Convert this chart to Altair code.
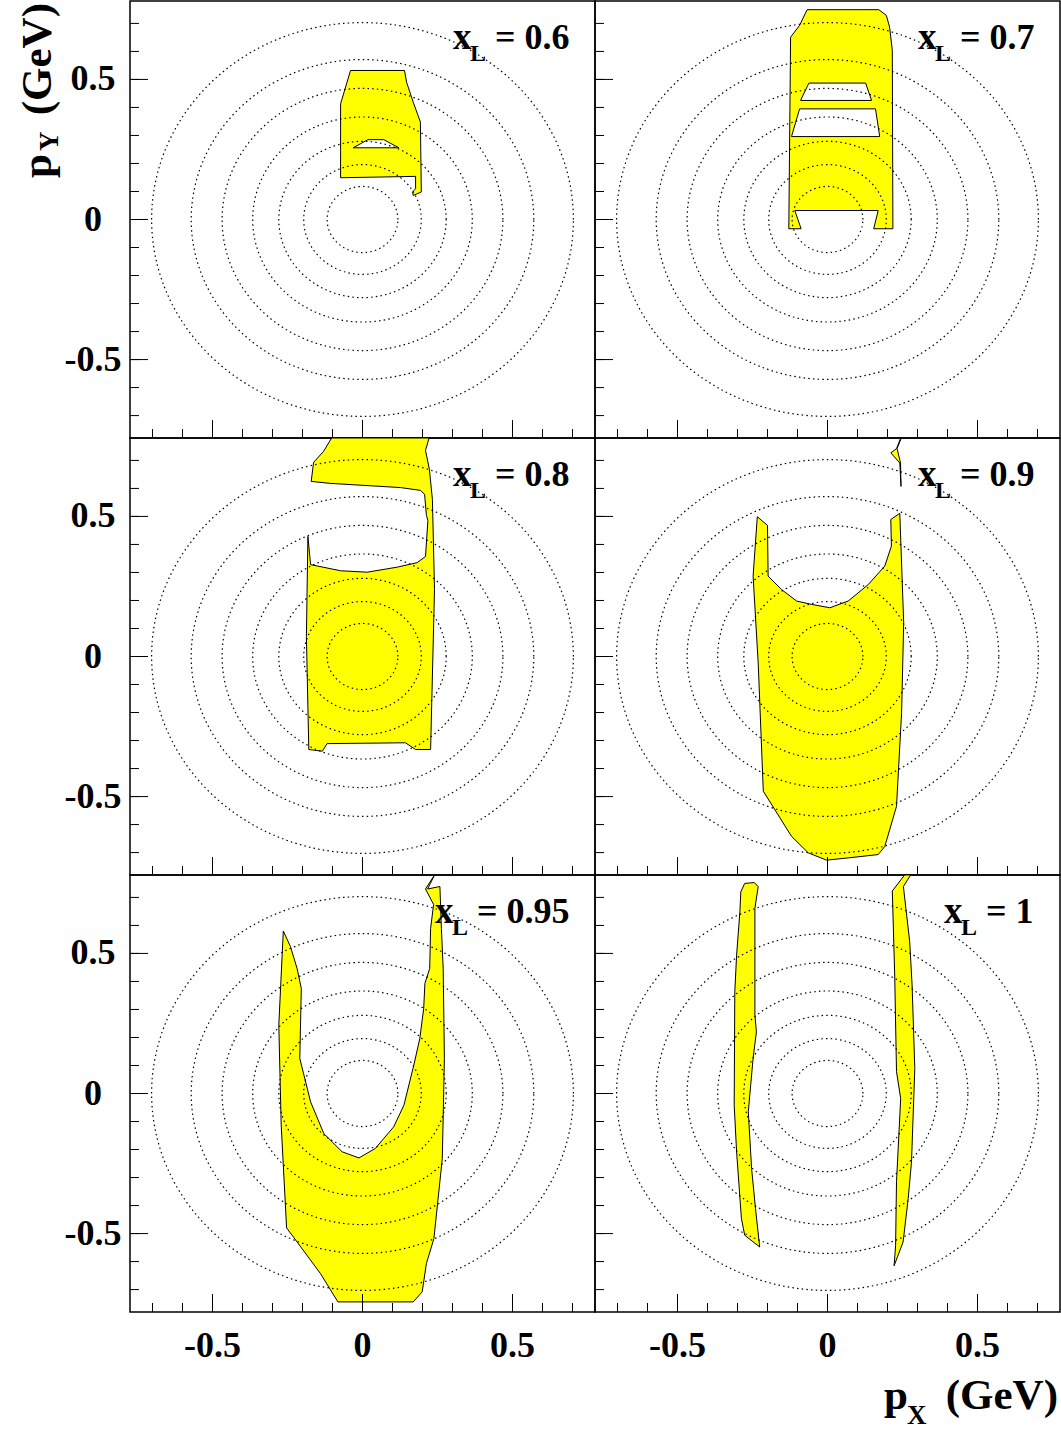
import numpy as np
import pandas as pd
import altair as alt

# ---------------- data ----------------
PANEL_XL = ["0.6", "0.7", "0.8", "0.9", "0.95", "1"]

# dotted guide circles (radius in GeV)
RADII = [0.118, 0.196, 0.279, 0.366, 0.468, 0.571, 0.703]

TICKS_MINOR = [-0.7, -0.6, -0.5, -0.4, -0.3, -0.2, -0.1, 0.0,
               0.1, 0.2, 0.3, 0.4, 0.5, 0.6, 0.7]
TICKS_MAJOR = [-0.5, 0.0, 0.5]
TICK_LABELS = ["-0.5", "0", "0.5"]

# xL = 0.6
P1_OUT_X = [-0.04, 0.14, 0.147, 0.169, 0.193, 0.196, 0.169, 0.167, 0.177, 0.177, -0.073, -0.073]
P1_OUT_Y = [0.532, 0.532, 0.490, 0.419, 0.348, 0.098, 0.086, 0.098, 0.11, 0.154, 0.149, 0.413]
P1_HOLE_X = [-0.031, 0.018, 0.071, 0.121]
P1_HOLE_Y = [0.256, 0.285, 0.285, 0.256]

# xL = 0.7
P2_OUT_X = [-0.123, -0.093, -0.068, 0.171, 0.196, 0.207, 0.216, 0.218, 0.154, 0.169, -0.109, -0.088, -0.129]
P2_OUT_Y = [0.651, 0.693, 0.749, 0.749, 0.729, 0.687, 0.604, -0.033, -0.033, 0.032, 0.032, -0.033, -0.033]
P2_HOLEA_X = [-0.062, 0.127, 0.147, -0.09]
P2_HOLEA_Y = [0.487, 0.487, 0.425, 0.425]
P2_HOLEB_X = [-0.093, 0.16, 0.174, -0.12]
P2_HOLEB_Y = [0.395, 0.395, 0.296, 0.296]

# xL = 0.8
P3_OUT_X = [-0.103, -0.13, -0.163, -0.171, -0.107, 0.127, 0.193, 0.207, 0.213, 0.218, 0.21, 0.182,
            0.116, 0.016, -0.073, -0.173, -0.182, -0.187, -0.179, -0.134, -0.118, 0.143, 0.177,
            0.227, 0.24, 0.233, 0.223, 0.21, 0.222]
P3_OUT_Y = [0.78, 0.732, 0.693, 0.625, 0.618, 0.603, 0.593, 0.579, 0.504, 0.486, 0.357, 0.335,
            0.319, 0.301, 0.306, 0.328, 0.429, 0.071, -0.332, -0.338, -0.311, -0.308, -0.332,
            -0.332, 0.239, 0.561, 0.668, 0.736, 0.78]

# xL = 0.9
P4_OUT_X = [-0.234, -0.2, -0.198, -0.153, -0.103, -0.053, 0.008, 0.069, 0.136, 0.191, 0.213, 0.211,
            0.241, 0.254, 0.247, 0.23, 0.191, 0.169, 0.069, -0.003, -0.064, -0.12, -0.214, -0.231, -0.248]
P4_OUT_Y = [0.499, 0.468, 0.287, 0.239, 0.198, 0.186, 0.174, 0.198, 0.257, 0.323, 0.394, 0.489,
            0.511, 0.120, -0.201, -0.535, -0.678, -0.707, -0.719, -0.727, -0.701, -0.642, -0.481, -0.023, 0.287]
P4_SLIV_X = [0.244, 0.23, 0.211, 0.241, 0.245, 0.2435, 0.232, 0.246]
P4_SLIV_Y = [0.78, 0.742, 0.727, 0.691, 0.607, 0.691, 0.742, 0.78]

# xL = 0.95
P5_OUT_X = [-0.264, -0.24, -0.218, -0.204, -0.209, -0.173, -0.129, -0.068, -0.012, 0.043, 0.104, 0.138,
            0.171, 0.191, 0.204, 0.208, 0.224, 0.227, 0.237, 0.21, 0.24, 0.217, 0.258, 0.263, 0.269,
            0.273, 0.266, 0.238, 0.213, 0.199, 0.169, -0.082, -0.14, -0.218, -0.253, -0.271, -0.279]
P5_OUT_Y = [0.58, 0.524, 0.446, 0.375, 0.125, -0.03, -0.143, -0.208, -0.23, -0.196, -0.119, -0.042,
            0.101, 0.196, 0.304, 0.393, 0.446, 0.589, 0.675, 0.73, 0.78, 0.73, 0.739, 0.589, 0.446,
            0.125, -0.232, -0.518, -0.607, -0.708, -0.744, -0.744, -0.643, -0.53, -0.48, -0.113, 0.244]

# xL = 1
P6_LEFT_X = [-0.276, -0.244, -0.231, -0.242, -0.242, -0.237, -0.248, -0.264, -0.253, -0.24, -0.226,
             -0.276, -0.287, -0.303, -0.311, -0.309, -0.303, -0.292, -0.289]
P6_LEFT_Y = [0.75, 0.753, 0.738, 0.661, 0.28, 0.22, 0.125, -0.065, -0.268, -0.411, -0.548,
             -0.506, -0.446, -0.208, -0.042, 0.363, 0.494, 0.649, 0.72]
P6_RIGHT_X = [0.216, 0.257, 0.277, 0.253, 0.274, 0.282, 0.291, 0.28, 0.269, 0.252, 0.222, 0.227,
              0.23, 0.244, 0.23, 0.224]
P6_RIGHT_Y = [0.723, 0.78, 0.78, 0.739, 0.542, 0.387, 0.089, -0.244, -0.375, -0.53, -0.615, -0.542,
              -0.315, -0.018, 0.078, 0.423]

FILLS = [
    [(P1_OUT_X, P1_OUT_Y)],
    [(P2_OUT_X, P2_OUT_Y)],
    [(P3_OUT_X, P3_OUT_Y)],
    [(P4_OUT_X, P4_OUT_Y), (P4_SLIV_X, P4_SLIV_Y)],
    [(P5_OUT_X, P5_OUT_Y)],
    [(P6_LEFT_X, P6_LEFT_Y), (P6_RIGHT_X, P6_RIGHT_Y)],
]
HOLES = [
    [(P1_HOLE_X, P1_HOLE_Y)],
    [(P2_HOLEA_X, P2_HOLEA_Y), (P2_HOLEB_X, P2_HOLEB_Y)],
    [], [], [], [],
]

# ---------------- layout / style ----------------
W, H = 465, 437
SERIF = "Liberation Serif"
YELLOW = "#ffff00"
LABEL_LEFT = [323, 323, 323, 323, 305, 349]
FS = 36

xscale = alt.Scale(domain=[-0.775, 0.775], nice=False, zero=False)
yscale = alt.Scale(domain=[-0.78, 0.78], nice=False, zero=False)


def poly_df(polys):
    rows = []
    for pid, (xs, ys) in enumerate(polys):
        n = len(xs)
        for i in range(n + 1):
            rows.append({"x": xs[i % n], "y": ys[i % n], "pid": pid, "i": i})
    return pd.DataFrame(rows)


theta = np.linspace(0, 2 * np.pi, 241)
circ_rows = []
for r in RADII:
    for i, t in enumerate(theta):
        circ_rows.append({"x": r * np.cos(t), "y": r * np.sin(t), "r": r, "i": i})
circ_df = pd.DataFrame(circ_rows)

tick_lab_df = pd.DataFrame({"t": TICKS_MAJOR, "lab": TICK_LABELS})


def txt(s, x, y, size, align="left", angle=0):
    return alt.Chart(pd.DataFrame({"t": [s]})).mark_text(
        font=SERIF, fontWeight="bold", fontSize=size, align=align,
        baseline="alphabetic", color="black", angle=angle
    ).encode(x=alt.value(x), y=alt.value(y), text="t:N")


def panel(idx):
    col, row = idx % 2, idx // 2
    X = alt.X("x:Q", scale=xscale, axis=None)
    Y = alt.Y("y:Q", scale=yscale, axis=None)

    layers = []
    layers.append(
        alt.Chart(poly_df(FILLS[idx])).mark_line(fill=YELLOW, stroke="black", strokeWidth=1)
        .encode(x=X, y=Y, detail="pid:N", order="i:Q")
    )
    if HOLES[idx]:
        layers.append(
            alt.Chart(poly_df(HOLES[idx])).mark_line(fill="white", stroke="black", strokeWidth=1)
            .encode(x=X, y=Y, detail="pid:N", order="i:Q")
        )
    layers.append(
        alt.Chart(circ_df).mark_line(stroke="black", strokeWidth=1.2, strokeDash=[1.5, 3.2])
        .encode(x=X, y=Y, detail="r:N", order="i:Q")
    )
    tmin = pd.DataFrame({"t": TICKS_MINOR})
    tmaj = pd.DataFrame({"t": TICKS_MAJOR})
    for d, ln in ((tmin, 9), (tmaj, 18)):
        layers.append(
            alt.Chart(d).mark_rule(color="black", strokeWidth=1)
            .encode(y=alt.Y("t:Q", scale=yscale, axis=None), x=alt.value(0), x2=alt.value(ln))
        )
        layers.append(
            alt.Chart(d).mark_rule(color="black", strokeWidth=1)
            .encode(x=alt.X("t:Q", scale=xscale, axis=None), y=alt.value(H), y2=alt.value(H - ln))
        )
    # tick labels (left column / bottom row)
    if col == 0:
        layers.append(
            alt.Chart(tick_lab_df).mark_text(font=SERIF, fontWeight="bold", fontSize=FS,
                                             align="center", baseline="middle", color="black")
            .encode(y=alt.Y("t:Q", scale=yscale, axis=None), x=alt.value(-37), text="lab:N")
        )
    if row == 2:
        layers.append(
            alt.Chart(tick_lab_df).mark_text(font=SERIF, fontWeight="bold", fontSize=FS,
                                             align="center", baseline="top", color="black")
            .encode(x=alt.X("t:Q", scale=xscale, axis=None), y=alt.value(H + 17), text="lab:N")
        )

    x0 = LABEL_LEFT[idx]
    layers.append(txt("x", x0, 48, 37))
    layers.append(txt("L", x0 + 17, 60, 24))
    layers.append(txt("= " + PANEL_XL[idx], x0 + 42, 48, FS))

    if idx == 0:
        # y-axis title, rotated
        layers.append(txt("p", -79, 177, 43, angle=270))
        layers.append(txt("Y", -72, 150, 27, angle=270))
        layers.append(txt("(GeV)", -79, 2, 43, align="right", angle=270))
        # left bound marker
        layers.append(
            alt.Chart(pd.DataFrame({"t": [0]})).mark_rule(strokeOpacity=0, strokeWidth=1)
            .encode(x=alt.value(-129), x2=alt.value(-129), y=alt.value(0), y2=alt.value(4))
        )
    if idx == 5:
        layers.append(txt("p", 289, 534, 43))
        layers.append(txt("X", 312, 549, 27))
        layers.append(txt("(GeV)", 463, 534, 43, align="right"))

    return alt.layer(*layers).properties(width=W, height=H)


chart = alt.concat(*[panel(i) for i in range(6)], columns=2, spacing=0, bounds="flush").properties(
    padding=0, background="white"
).configure_view(stroke="black", strokeWidth=1.5)

chart.save("out.html", embed_options={"renderer": "svg", "actions": False})
